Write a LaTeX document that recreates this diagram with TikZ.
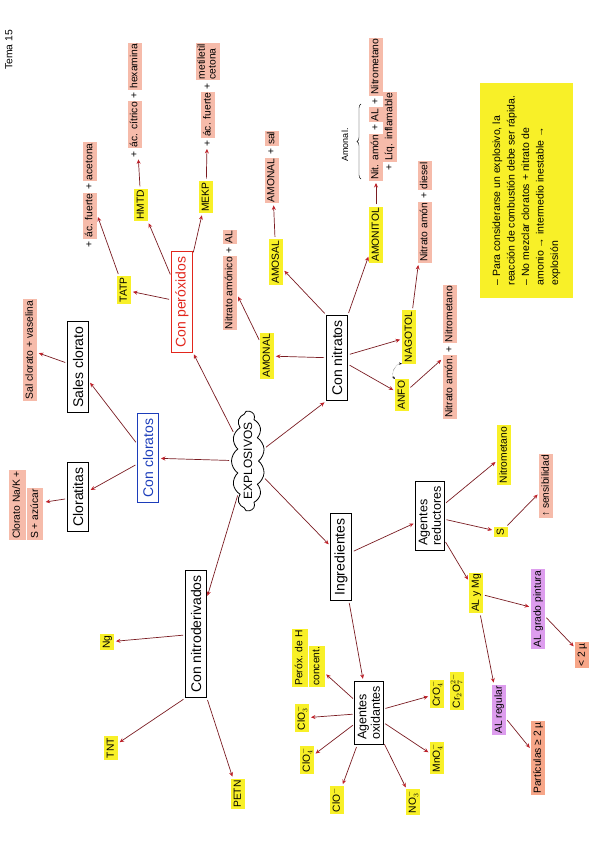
\documentclass[tikz,border=0pt]{standalone}
\usepackage{fontspec}
\setmainfont{Liberation Sans}
\usetikzlibrary{arrows.meta,shapes.symbols,decorations.pathreplacing}

\definecolor{flechacol}{HTML}{7A1C22}
\definecolor{puntacol}{HTML}{C0222A}
\definecolor{amarillo}{HTML}{F8F028}
\definecolor{rosado}{HTML}{F6BBAA}
\definecolor{lila}{HTML}{DD9DEE}
\definecolor{salmon}{HTML}{F7A688}
\definecolor{azulcaja}{HTML}{1C3DBA}
\definecolor{rojocaja}{HTML}{E2261C}

\newcommand{\marcar}[1]{{\setlength{\fboxsep}{1pt}\colorbox{rosado}{\strut #1}}}
\newcommand{\marcay}[1]{{\setlength{\fboxsep}{1pt}\colorbox{amarillo}{\strut #1}}}

\tikzset{
  caja/.style={draw, line width=0.8pt, rotate=90, font=\fontsize{14}{15}\selectfont, inner xsep=5pt, inner ysep=3pt, minimum height=21pt},
  caja2/.style={caja, align=left, font=\fontsize{12.5}{13.5}\selectfont},
  hoja/.style={rotate=90, font=\fontsize{10.3}{12}\selectfont, inner sep=0pt},
  marcaY/.style={hoja, fill=amarillo, inner sep=1.5pt, text height=8pt, text depth=2.5pt},
  marcaR/.style={marcaY, fill=rosado},
  marcaL/.style={marcaY, fill=lila},
  marcaS/.style={marcaY, fill=salmon},
  flecha/.style={draw=flechacol, line width=0.7pt, -{Stealth[length=4.5pt,width=4pt,color=puntacol]}, shorten <=2pt, shorten >=2pt}
}

\begin{document}
\begin{tikzpicture}[x=1pt, y=-1pt]
  \useasboundingbox (0,0) rectangle (599,848);

  % Titel
  \node[hoja] (tema) at (9,50) {Tema 15};

  % Zentrum
  \node[cloud, draw, line width=0.8pt, rotate=90, cloud puffs=13, cloud puff arc=110, cloud ignores aspect, minimum width=100pt, minimum height=33pt, inner sep=0pt] (expl) at (248,461) {};
  \node[rotate=90, font=\fontsize{12}{13}\selectfont] (explT) at (expl.center) {EXPLOSIVOS};

  % Con cloratos
  \node[caja, draw=azulcaja, text=azulcaja] (concl) at (148,458) {Con cloratos};
  \node[caja] (sales) at (78,367) {Sales clorato};
  \node[caja] (clorat) at (78,497) {Cloratitas};
  \node[marcaR] (salT) at (30,350) {Sal clorato + vaselina};
  \node[hoja, align=left, font=\fontsize{10.3}{15}\selectfont] (clorT) at (26,505) {\marcar{Clorato Na/K +}\\\marcar{S + azúcar}};

  % Con peroxidos
  \node[caja, draw=rojocaja, text=rojocaja] (perox) at (182,302) {Con peróxidos};
  \node[marcaY] (tatp) at (124,290) {TATP};
  \node[marcaY] (hmtd) at (141,205) {HMTD};
  \node[marcaY] (mekp) at (206,197) {MEKP};
  \node[hoja] (tatpT) at (90,195) {+ \marcar{ác. fuerte} + \marcar{acetona}};
  \node[hoja] (hmtdT) at (135,100) {+ \marcar{ác. cítrico} + \marcar{hexamina}};
  \node[hoja] (mekpT) at (208,95) {+ \marcar{ác. fuerte} + \marcar{\renewcommand\arraystretch{0.9}\begin{tabular}{@{}l@{}}metiletil\\cetona\end{tabular}}};

  % Con nitratos
  \node[caja] (conit) at (337,358) {Con nitratos};
  \node[marcaY] (amonal) at (267,356) {AMONAL};
  \node[marcaY] (amosal) at (276,262) {AMOSAL};
  \node[hoja] (nitAL) at (230,280) {\marcar{Nitrato amónico} + \marcar{AL}};
  \node[hoja] (amosT) at (272,167) {\marcar{AMONAL} + \marcar{sal}};
  \node[marcaY] (amonitol) at (376,235) {AMONITOL};
  \node[hoja, anchor=west] (nitL1) at (376,181) {\marcar{Nit. amón} + \marcar{AL} + \marcar{Nitrometano}};
  \node[hoja, anchor=west] (nitL2) at (390,171) {+ \marcar{Líq. inflamable}};
  \draw[decorate, decoration={brace, amplitude=4pt}] (361,179) -- (361,104);
  \node[hoja, font=\fontsize{9}{11}\selectfont] (amonalT) at (345,145) {Amonal.};
  \node[marcaY] (nago) at (409,337) {NAGOTOL};
  \node[marcaY] (anfo) at (402,395) {ANFO};
  \node[hoja] (nagoT) at (425,212) {\marcar{Nitrato amón} + \marcar{diesel}};
  \node[hoja] (anfoT) at (450,352) {\marcar{Nitrato amón.} + \marcar{Nitrometano}};

  % Hinweis
  \node[rotate=90, fill=amarillo, minimum width=215pt, minimum height=93pt, align=left, font=\fontsize{10.5}{14.5}\selectfont] (nota) at (526.5,190.5) {– Para considerarse un explosivo, la\\reacción de combustión debe ser rápida.\\– No mezclar cloratos + nitrato de\\amonio → intermedio inestable →\\explosión};

  % Ingredientes
  \node[caja] (ingr) at (341,557) {Ingredientes};
  \node[caja2] (ared) at (430,516) {Agentes\\reductores};
  \node[marcaY] (nitro) at (504,455) {Nitrometano};
  \node[marcaY] (azufre) at (501,532) {S};
  \node[marcaR] (sens) at (546,486) {↑ sensibilidad};
  \node[marcaY] (almg) at (476,593) {AL y Mg};
  \node[marcaL] (alpint) at (538,609) {AL grado pintura};
  \node[marcaS] (menor) at (582,655) {< 2 µ};
  \node[marcaL] (alreg) at (499,710) {AL regular};
  \node[marcaS] (part) at (538,758) {Partículas ≥ 2 µ};

  \node[caja2] (aox) at (369,713) {Agentes\\oxidantes};
  \node[hoja, align=left, font=\fontsize{10.3}{14}\selectfont] (perH) at (308,658) {\marcay{Peróx. de H}\\\marcay{concent.}};
  \node[marcaY] (clo3) at (302,718) {ClO$_3^-$};
  \node[marcaY] (clo4) at (307,760) {ClO$_4^-$};
  \node[marcaY] (clo) at (337,800) {ClO$^-$};
  \node[marcaY] (no3) at (413,802) {NO$_3^-$};
  \node[marcaY] (mno4) at (437,758) {MnO$_4^-$};
  \node[marcaY] (cro4) at (437,694) {CrO$_4^-$};
  \node[marcaY] (cr2o7) at (457,691) {Cr$_2$O$_7^{2-}$};

  % Con nitroderivados
  \node[caja] (nitder) at (196,634) {Con nitroderivados};
  \node[marcaY] (ng) at (107,642) {Ng};
  \node[marcaY] (tnt) at (111,748) {TNT};
  \node[marcaY] (petn) at (238,794) {PETN};

  % Pfeile
  \draw[flecha] (expl) -- (concl);
  \draw[flecha] (concl) -- (sales);
  \draw[flecha] (concl) -- (clorat);
  \draw[flecha] (sales) -- (salT);
  \draw[flecha] (clorat) -- (clorT);

  \draw[flecha] (expl) -- (perox.south west);
  \draw[flecha] (perox) -- (tatp);
  \draw[flecha] (perox) -- (hmtd);
  \draw[flecha] (perox) -- (mekp);
  \draw[flecha] (tatp) -- (tatpT);
  \draw[flecha] (hmtd) -- (hmtdT);
  \draw[flecha] (mekp) -- (mekpT);

  \draw[flecha] (expl) -- (conit.north west);
  \draw[flecha] (conit) -- (amonal);
  \draw[flecha] (conit.north east) -- (amosal);
  \draw[flecha] (amonal) -- (nitAL);
  \draw[flecha] (amosal) -- (amosT);
  \draw[flecha] (conit.south east) -- (amonitol);
  \draw[flecha] (amonitol) -- (nitL1);
  \draw[flecha] (conit) -- (nago);
  \draw[flecha] (conit) -- (anfo);
  \draw[flecha] (nago) -- (nagoT);
  \draw[flecha] (anfo) -- (anfoT);
  \draw[densely dotted, thin, {Stealth[length=3pt]}-{Stealth[length=3pt]}] (anfo.north east) to[bend left=70] (nago.north west);

  \draw[flecha] (expl) -- (ingr);
  \draw[flecha] (ingr) -- (ared);
  \draw[flecha] (ingr) -- (aox);
  \draw[flecha] (ared) -- (nitro);
  \draw[flecha] (ared) -- (azufre);
  \draw[flecha] (ared) -- (almg);
  \draw[flecha] (azufre) -- (sens);
  \draw[flecha] (almg) -- (alpint);
  \draw[flecha] (almg) -- (alreg);
  \draw[flecha] (alpint) -- (menor);
  \draw[flecha] (alreg) -- (part);

  \draw[flecha] (aox) -- (perH);
  \draw[flecha] (aox) -- (clo3);
  \draw[flecha] (aox) -- (clo4);
  \draw[flecha] (aox) -- (clo);
  \draw[flecha] (aox) -- (no3);
  \draw[flecha] (aox) -- (mno4);
  \draw[flecha] (aox) -- (cro4);

  \draw[flecha] (expl) -- (nitder);
  \draw[flecha] (nitder) -- (ng);
  \draw[flecha] (nitder.north west) -- (tnt);
  \draw[flecha] (nitder.south west) -- (petn);
\end{tikzpicture}
\end{document}
